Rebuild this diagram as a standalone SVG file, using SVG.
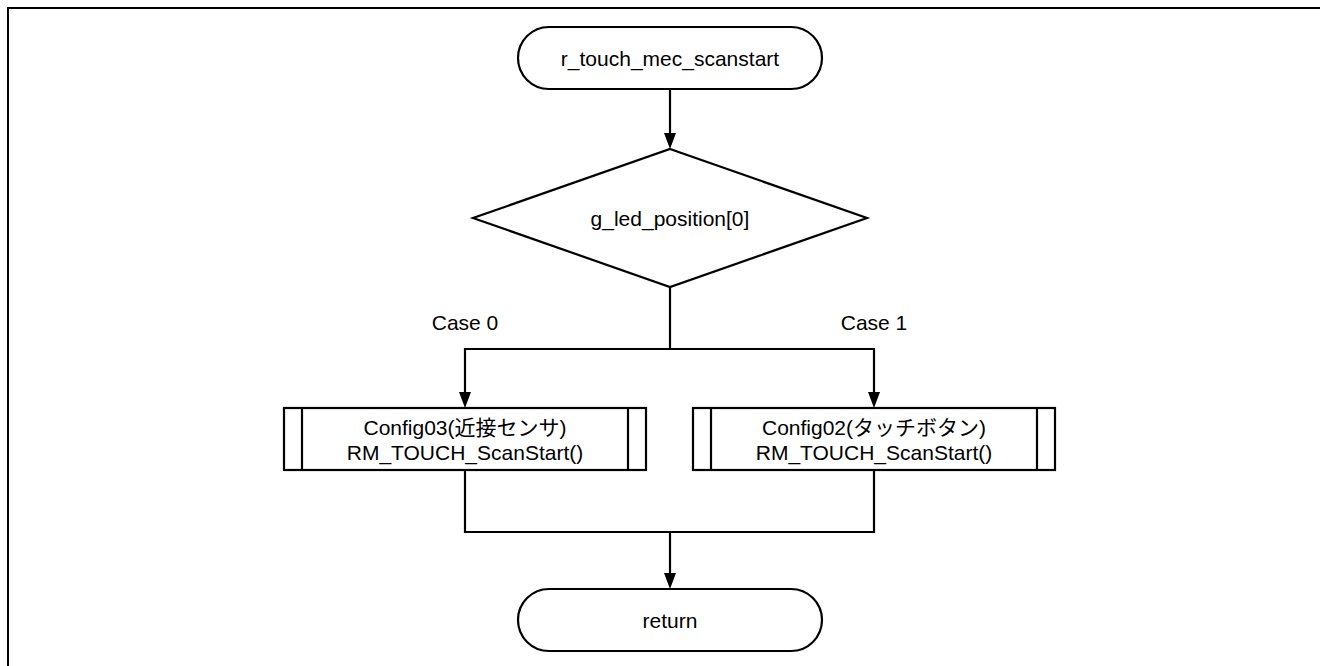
<svg xmlns="http://www.w3.org/2000/svg" width="1320" height="666" viewBox="0 0 1320 666">
<style>
.s{fill:#fff;stroke:#000;stroke-width:2.2}
.c{fill:none;stroke:#000;stroke-width:2.2}
.a{fill:#000;stroke:none}
.t{font-family:"Liberation Sans","Noto Sans CJK JP",sans-serif;font-size:21px;fill:#000;text-anchor:middle;dominant-baseline:central}
</style>
<rect x="8" y="8" width="1340" height="700" fill="none" stroke="#000" stroke-width="2"/>
<g id="connectors">
<line class="c" x1="670" y1="89" x2="670" y2="133"/>
<path class="a" d="M664,133 L676,133 L670,149 Z"/>
<polyline class="c" points="670,287 670,349"/>
<polyline class="c" points="465,392 465,349 874,349 874,392"/>
<path class="a" d="M459,392 L471,392 L465,408 Z"/>
<path class="a" d="M868,392 L880,392 L874,408 Z"/>
<polyline class="c" points="465,470 465,532 874,532 874,470"/>
<line class="c" x1="670" y1="532" x2="670" y2="573"/>
<path class="a" d="M664,573 L676,573 L670,589 Z"/>
<text class="t" x="465" y="322">Case 0</text>
<text class="t" x="874" y="322">Case 1</text>
</g>
<g id="start">
<rect class="s" x="518" y="27" width="304" height="62" rx="31" ry="31"/>
<text class="t" x="670" y="58">r_touch_mec_scanstart</text>
</g>
<g id="decision">
<polygon class="s" points="670,149 867,218 670,287 473,218"/>
<text class="t" x="670" y="218">g_led_position[0]</text>
</g>
<g id="config03">
<rect class="s" x="284" y="408" width="362" height="62"/>
<line class="c" x1="302" y1="408" x2="302" y2="470"/>
<line class="c" x1="628" y1="408" x2="628" y2="470"/>
<text class="t" x="465" y="427">Config03(近接センサ)</text>
<text class="t" x="465" y="452">RM_TOUCH_ScanStart()</text>
</g>
<g id="config02">
<rect class="s" x="693" y="408" width="362" height="62"/>
<line class="c" x1="711" y1="408" x2="711" y2="470"/>
<line class="c" x1="1037" y1="408" x2="1037" y2="470"/>
<text class="t" x="874" y="427">Config02(タッチボタン)</text>
<text class="t" x="874" y="452">RM_TOUCH_ScanStart()</text>
</g>
<g id="return">
<rect class="s" x="518" y="589" width="304" height="62" rx="31" ry="31"/>
<text class="t" x="670" y="620">return</text>
</g>
</svg>
